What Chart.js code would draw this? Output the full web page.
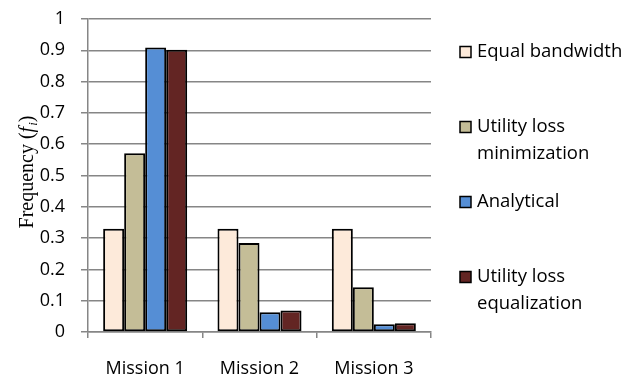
<!DOCTYPE html>
<html>
<head>
<meta charset="utf-8">
<script src="https://cdn.jsdelivr.net/npm/chart.js@4/dist/chart.umd.min.js"></script>
<style>
  html, body { margin: 0; padding: 0; background: #ffffff; }
  #wrap { width: 622px; height: 379px; position: relative; }
</style>
</head>
<body>
<div id="wrap"><canvas id="chart" width="622" height="379"></canvas></div>
<script>
// Categories and series
const missions = ['Mission 1', 'Mission 2', 'Mission 3'];
const equalBandwidth = [0.33, 0.33, 0.33];
const utilityLossMinimization = [0.571, 0.284, 0.143];
const analytical = [0.909, 0.063, 0.025];
const utilityLossEqualization = [0.902, 0.069, 0.028];

// Legend text, one entry per series (wrapped lines)
const legendLines = [
  ['Equal bandwidth'],
  ['Utility loss', 'minimization'],
  ['Analytical'],
  ['Utility loss', 'equalization']
];
const seriesNames = ['Equal bandwidth', 'Utility loss minimization', 'Analytical', 'Utility loss equalization'];
const yTicks = [0, 0.1, 0.2, 0.3, 0.4, 0.5, 0.6, 0.7, 0.8, 0.9, 1];

const fills = ['#FDEADA', '#C4BD97', '#558ED5', '#632523'];
const gridGray = '#868686';
const uiFont = '"Open Sans", Lato, sans-serif';

// Y axis title "Frequency (f_i)" with italic f and subscript i
const yTitlePlugin = {
  id: 'yTitle',
  afterDraw(chart) {
    const { ctx, chartArea } = chart;
    const cy = (chartArea.top + chartArea.bottom) / 2 - 3;
    const base = 33;
    ctx.save();
    ctx.translate(base, cy);
    ctx.rotate(-Math.PI / 2);
    ctx.fillStyle = '#000';
    ctx.textBaseline = 'alphabetic';
    const fNormal = '20px "Liberation Serif", "Times New Roman", serif';
    const fItalic = 'italic 20px "Liberation Serif", "Times New Roman", serif';
    const fSub = 'italic 13px "Liberation Serif", "Times New Roman", serif';
    const parts = [
      { t: 'Frequency (', f: fNormal, dy: 0 },
      { t: 'f', f: fItalic, dy: 0 },
      { t: 'i', f: fSub, dy: 4 },
      { t: ')', f: fNormal, dy: 0 }
    ];
    let total = 0;
    parts.forEach(p => { ctx.font = p.f; p.w = ctx.measureText(p.t).width; total += p.w; });
    let x = -total / 2;
    parts.forEach(p => {
      ctx.font = p.f;
      ctx.fillText(p.t, x, p.dy);
      x += p.w + (p.t === 'f' ? 1 : 0);
    });
    ctx.restore();
  }
};

// Legend on the right, boxes with wrapped labels
const sideLegendPlugin = {
  id: 'sideLegend',
  afterDraw(chart) {
    const { ctx } = chart;
    const boxX = 460, box = 11, textX = 477;
    const firstY = 52, itemStep = 75, lineStep = 26.7;
    ctx.save();
    ctx.font = '18.5px ' + uiFont;
    ctx.textBaseline = 'middle';
    chart.data.datasets.forEach((ds, i) => {
      const y = firstY + i * itemStep;
      ctx.fillStyle = ds.backgroundColor;
      ctx.fillRect(boxX, y - box / 2, box, box);
      ctx.strokeStyle = '#000';
      ctx.lineWidth = 1.5;
      ctx.strokeRect(boxX, y - box / 2, box, box);
      ctx.fillStyle = '#000';
      legendLines[i].forEach((line, j) => {
        ctx.fillText(line, textX, y + j * lineStep);
      });
    });
    ctx.restore();
  }
};

const seriesValues = [equalBandwidth, utilityLossMinimization, analytical, utilityLossEqualization];

new Chart(document.getElementById('chart'), {
  type: 'bar',
  data: {
    labels: missions,
    datasets: seriesValues.map((vals, i) => ({
      label: seriesNames[i],
      data: vals,
      backgroundColor: fills[i],
      borderColor: '#000000',
      borderWidth: 2,
      borderSkipped: false,
      barPercentage: 1,
      categoryPercentage: 0.735
    }))
  },
  options: {
    responsive: false,
    animation: false,
    devicePixelRatio: 1,
    layout: { padding: { top: 19, right: 191, left: 0, bottom: 0 } },
    plugins: {
      legend: { display: false },
      tooltip: { enabled: false },
      title: { display: false }
    },
    scales: {
      x: {
        afterFit(scale) {
          scale.height = 47;
          scale.paddingLeft = 0;
          scale.paddingRight = 0;
        },
        grid: {
          offset: true,
          drawOnChartArea: true,
          color: c => (c.index === missions.length ? gridGray : 'rgba(0,0,0,0)'),
          tickColor: gridGray,
          tickLength: 6,
          lineWidth: 1.5
        },
        border: { display: true, color: gridGray, width: 1.5 },
        ticks: {
          color: '#000',
          font: { family: uiFont, size: 18 },
          padding: 20,
          maxRotation: 0
        }
      },
      y: {
        min: 0,
        max: 1,
        afterFit(scale) {
          scale.width = 88;
          scale.paddingTop = 0;
          scale.paddingBottom = 0;
        },
        afterBuildTicks(scale) { scale.ticks = yTicks.map(v => ({ value: v })); },
        grid: {
          color: gridGray,
          tickColor: gridGray,
          tickLength: 7,
          lineWidth: 1.5
        },
        border: { display: true, color: gridGray, width: 1.5 },
        ticks: {
          color: '#000',
          font: { family: uiFont, size: 18 },
          padding: 16,
          callback: v => String(+v.toFixed(1))
        }
      }
    }
  },
  plugins: [yTitlePlugin, sideLegendPlugin]
});
</script>
</body>
</html>
